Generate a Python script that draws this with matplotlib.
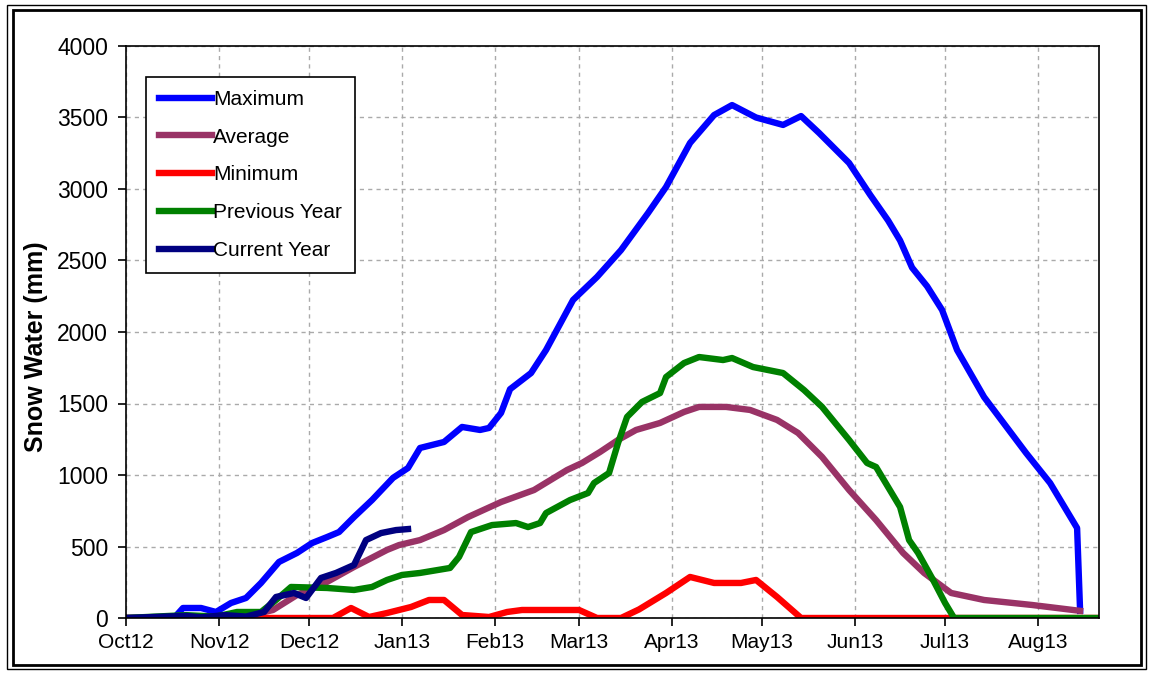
import numpy as np
import matplotlib
matplotlib.use("Agg")
import matplotlib.pyplot as plt
import matplotlib.dates as mdates
from matplotlib.patches import Rectangle

plt.rcParams['font.family'] = ['Liberation Sans', 'DejaVu Sans']

# jours depuis le 1er octobre 2012 et valeurs en mm
max_days = [0, 16, 19, 25, 30, 35, 40, 45, 51, 57, 62, 67, 71, 76, 82, 89, 94, 98,
            106, 112, 118, 121, 125, 128, 135, 140, 149, 157, 165, 174, 180, 188,
            196, 202, 210, 219, 225, 231, 241, 248, 254, 258, 262, 267, 272, 277,
            286, 300, 308, 317, 318]
max_vals = [0, 0, 70, 70, 42, 105, 140, 245, 392, 455, 524, 566, 601, 706, 825, 980,
            1049, 1189, 1231, 1336, 1315, 1329, 1434, 1600, 1713, 1874, 2224, 2385,
            2573, 2832, 3014, 3322, 3517, 3587, 3500, 3448, 3510, 3392, 3182, 2960,
            2780, 2640, 2450, 2320, 2154, 1874, 1545, 1154, 944, 629, 50]

avg_days = [0, 38, 49, 57, 67, 76, 87, 91, 98, 106, 114, 125, 136, 147, 152, 158,
            164, 170, 178, 186, 191, 200, 208, 217, 224, 232, 241, 250, 259, 266,
            275, 286, 302, 318]
avg_vals = [0, 0, 56, 161, 252, 357, 476, 510, 545, 615, 706, 811, 895, 1035, 1084,
            1161, 1245, 1315, 1364, 1441, 1476, 1476, 1455, 1385, 1294, 1126, 895,
            685, 455, 315, 175, 126, 91, 50]

min_days = [0, 69, 75, 81, 87, 95, 101, 106, 112, 121, 127, 132, 151, 157, 165, 171,
            180, 188, 196, 205, 210, 217, 225, 324]
min_vals = [0, 0, 70, 7, 35, 77, 126, 126, 21, 7, 42, 56, 56, 0, 0, 60, 175, 287,
            245, 245, 266, 147, 0, 0]

prev_days = [0, 20, 30, 37, 45, 50, 55, 67, 76, 82, 87, 92, 98, 108, 111, 115, 122,
             130, 134, 138, 140, 148, 154, 156, 161, 164, 167, 172, 178, 180, 186,
             191, 199, 202, 209, 219, 226, 232, 241, 247, 250, 258, 261, 264, 269,
             273, 276, 324]
prev_vals = [0, 20, 10, 42, 42, 126, 217, 210, 196, 217, 266, 301, 315, 350, 427, 601,
             650, 664, 636, 664, 734, 825, 874, 944, 1014, 1224, 1406, 1511, 1573,
             1685, 1783, 1825, 1804, 1818, 1755, 1713, 1594, 1476, 1245, 1084, 1056,
             776, 545, 455, 266, 105, 0, 0]

cur_days = [0, 20, 25, 33, 40, 46, 50, 56, 60, 65, 70, 76, 80, 85, 90, 94]
cur_vals = [0, 15, 5, 20, 10, 42, 147, 175, 140, 280, 315, 371, 545, 594, 615, 622]

start = np.datetime64('2012-10-01')


def to_dates(days):
    return start + np.array(days, dtype='timedelta64[D]')


fig = plt.figure(figsize=(11.51, 6.74), dpi=100)
ax = fig.add_axes([126 / 1151, 1 - 618 / 674, 973 / 1151, 572 / 674])

lw = 4.6
ax.plot(to_dates(max_days), max_vals, color='#0000FF', lw=lw, label='Maximum')
ax.plot(to_dates(avg_days), avg_vals, color='#993366', lw=lw, label='Average')
ax.plot(to_dates(min_days), min_vals, color='#FF0000', lw=lw, label='Minimum')
ax.plot(to_dates(prev_days), prev_vals, color='#008000', lw=lw, label='Previous Year')
ax.plot(to_dates(cur_days), cur_vals, color='#000080', lw=lw, label='Current Year')

ax.set_xlim(mdates.date2num(start), mdates.date2num(start) + 324.3)
ax.set_ylim(0, 4000)
ax.set_yticks(np.arange(0, 4001, 500))
ax.xaxis.set_major_locator(mdates.MonthLocator())
ax.xaxis.set_major_formatter(mdates.DateFormatter('%b%y'))

ax.grid(True, color='#aaaaaa', linestyle=(0, (3, 3)), lw=1)
ax.set_axisbelow(True)
for s in ax.spines.values():
    s.set_color('black')
    s.set_linewidth(1.2)
ax.tick_params(direction='out', length=6, width=1.2)
ax.tick_params(axis='x', labelsize=15, pad=5)
ax.tick_params(axis='y', labelsize=16.5, pad=7)

ax.set_ylabel('Snow Water (mm)', fontsize=18, fontweight='bold')
ax.yaxis.set_label_coords(-0.08, 0.475)

leg = ax.legend(loc='upper left', bbox_to_anchor=(0.0206, 0.946), borderaxespad=0,
                fontsize=15, handlelength=2.55, handletextpad=0.05,
                labelspacing=0.9, borderpad=0.62, fancybox=False, framealpha=1)
leg.get_frame().set_edgecolor('black')
leg.get_frame().set_linewidth(1.2)

# cadre double autour de la figure
fig.add_artist(Rectangle((7.5 / 1151, 1 - 669 / 674), 1138.5 / 1151, 664 / 674,
                         transform=fig.transFigure, fill=False, lw=1, ec='black'))
fig.add_artist(Rectangle((12.5 / 1151, 1 - 665 / 674), 1128.5 / 1151, 655.5 / 674,
                         transform=fig.transFigure, fill=False, lw=2, ec='black'))

fig.savefig('out.png', dpi=100)
